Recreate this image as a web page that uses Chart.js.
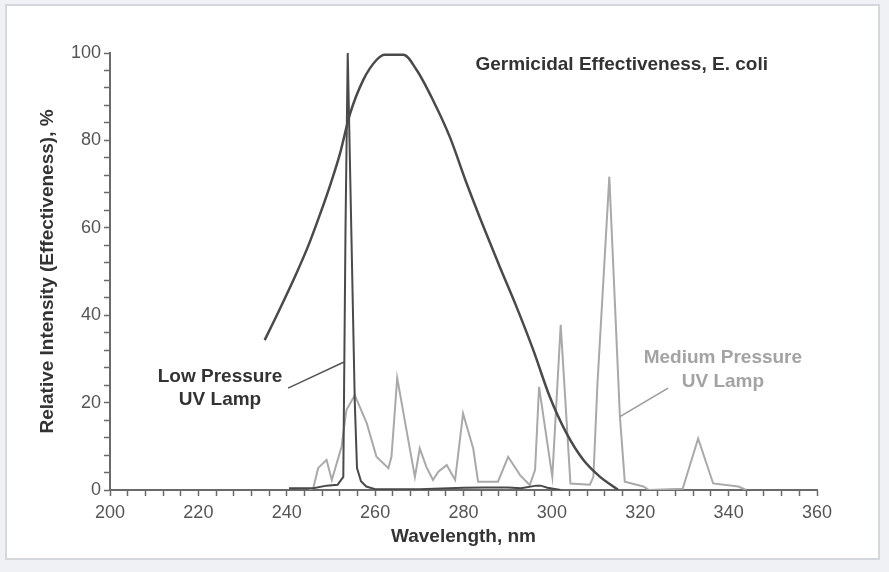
<!DOCTYPE html>
<html>
<head>
<meta charset="utf-8">
<script src="https://cdn.jsdelivr.net/npm/chart.js@4.4.1/dist/chart.umd.min.js"></script>
<style>
  html, body { margin: 0; padding: 0; background: #eff1f4; }
  #panel {
    position: absolute; left: 5px; top: 4px; width: 871px; height: 552px;
    background: #ffffff; border: 2px solid #d4d7db;
  }
  #wrap { position: absolute; left: 0; top: 0; width: 889px; height: 572px; }
</style>
</head>
<body>
<div id="panel"></div>
<div id="wrap"><canvas id="uvChart"></canvas></div>
<script>
// Germicidal effectiveness curve (E. coli)
const germNm  = [235, 238, 242.2, 245, 247.5, 250, 252, 254.3, 257.3, 260.3, 262.2, 266.4, 269.4, 273.1, 276.9, 280.7, 284.5, 288.2, 292, 295.8, 299.5, 303.3, 307.1, 310.9, 313.9, 315];
const germVal = [34.3, 40.5, 49.6, 56.2, 63, 70.3, 76.8, 86, 93.8, 98.4, 99.6, 99.6, 96.1, 89.2, 80.8, 70.2, 60.3, 51.1, 41.9, 32, 21.4, 13, 6.9, 3, 0.8, 0];

// Low pressure UV lamp
const lowNm  = [240.5, 246, 249, 251.5, 252.8, 253.3, 253.8, 255.4, 255.9, 256.8, 258, 260, 270, 280, 285, 290, 293, 296.5, 297.5, 299, 302];
const lowVal = [0.4, 0.4, 1, 1.2, 3, 60, 100, 20, 5, 2, 0.8, 0.2, 0.2, 0.5, 0.6, 0.6, 0.4, 1, 1, 0.5, 0];

// Medium pressure UV lamp
const medNm  = [245, 246, 247.1, 249, 250.2, 252.4, 253.5, 255.4, 258.1, 260.3, 263, 263.7, 265, 267.1, 269, 270.1, 271.6, 273.1, 274.3, 276.2, 278.1, 279.9, 282.2, 283.3, 287.8, 290.1, 292.8, 295, 296.2, 297.1, 300.1, 302, 304.2, 308.6, 309.4, 310.3, 313, 315.4, 316.5, 320.7, 322, 329.6, 333.1, 336.5, 342.2, 344];
const medVal = [0, 0.4, 5, 6.9, 2.3, 9.9, 18.3, 21.7, 15.3, 7.6, 5, 7.6, 25.6, 13.7, 3, 9.5, 5.3, 2.3, 4.2, 5.7, 2.3, 17.5, 9.5, 1.9, 1.9, 7.6, 3.4, 1.1, 4.6, 23.6, 3, 37.8, 1.5, 1.2, 3, 24, 71.7, 16.8, 1.9, 0.8, 0, 0.3, 11.8, 1.5, 0.8, 0];

// Axis settings
const xMin = 200, xMax = 360, yMin = 0, yMax = 100;
const minorStep = 4, majorStep = 20;

const darkLine = '#4a4a4a';
const grayLine = '#a9a9a9';
const axisColor = '#6a6a6a';
const labelColor = '#555555';
const fontFam = "'Liberation Sans', Arial, sans-serif";

const toPoints = (xs, ys) => xs.map((x, i) => ({ x: x, y: ys[i] }));

// Labels and leader lines, placed in data units
const notes = [
    { text: 'Germicidal Effectiveness, E. coli', x: 315.8, y: 97.3, color: '#333333' },
    { text: 'Low Pressure', x: 224.9, y: 25.9, color: '#333333' },
    { text: 'UV Lamp', x: 224.9, y: 20.6, color: '#333333' },
    { text: 'Medium Pressure', x: 338.7, y: 30.2, color: '#a3a3a3' },
    { text: 'UV Lamp', x: 338.7, y: 24.7, color: '#a3a3a3' }
];
const leaders = [
    { from: [240.3, 23.3], to: [253.2, 29.4], color: '#555555' },
    { from: [315.4, 16.8], to: [326.3, 23.3], color: '#9a9a9a' }
];

const notesPlugin = {
    id: 'notes',
    afterDatasetsDraw(chart) {
        const ctx = chart.ctx;
        const xs = chart.scales.x, ys = chart.scales.y;
        ctx.save();
        leaders.forEach(l => {
            ctx.beginPath();
            ctx.strokeStyle = l.color;
            ctx.lineWidth = 1.5;
            ctx.moveTo(xs.getPixelForValue(l.from[0]), ys.getPixelForValue(l.from[1]));
            ctx.lineTo(xs.getPixelForValue(l.to[0]), ys.getPixelForValue(l.to[1]));
            ctx.stroke();
        });
        ctx.font = 'bold 19px ' + fontFam;
        ctx.textAlign = 'center';
        ctx.textBaseline = 'middle';
        notes.forEach(n => {
            ctx.fillStyle = n.color;
            ctx.fillText(n.text, xs.getPixelForValue(n.x), ys.getPixelForValue(n.y));
        });
        ctx.restore();
    }
};

const lineStyle = { pointRadius: 0, pointHoverRadius: 0, fill: false };

new Chart(document.getElementById('uvChart'), {
    type: 'line',
    data: {
        datasets: [
            { label: 'Low Pressure UV Lamp', data: toPoints(lowNm, lowVal), borderColor: darkLine, borderWidth: 2, tension: 0, ...lineStyle },
            { label: 'Germicidal Effectiveness', data: toPoints(germNm, germVal), borderColor: darkLine, borderWidth: 2.5, cubicInterpolationMode: 'monotone', ...lineStyle },
            { label: 'Medium Pressure UV Lamp', data: toPoints(medNm, medVal), borderColor: grayLine, borderWidth: 2, tension: 0, ...lineStyle }
        ]
    },
    options: {
        responsive: true,
        maintainAspectRatio: false,
        animation: false,
        events: [],
        layout: { padding: { left: 0, top: 53, right: 72, bottom: 0 } },
        plugins: {
            legend: { display: false },
            tooltip: { enabled: false }
        },
        scales: {
            x: {
                type: 'linear',
                min: xMin, max: xMax,
                afterFit: s => { s.height = 82; },
                border: { display: true, color: axisColor, width: 2 },
                grid: { drawOnChartArea: false, drawTicks: true, tickLength: 6, tickColor: axisColor, tickWidth: 1.5 },
                ticks: {
                    stepSize: minorStep, autoSkip: false, maxRotation: 0, padding: 6,
                    color: labelColor, font: { family: fontFam, size: 18 },
                    callback: v => (v % majorStep === 0 ? v : '')
                },
                title: { display: true, text: 'Wavelength, nm', color: '#333333', font: { family: fontFam, size: 19, weight: 'bold' }, padding: { top: 4, bottom: 24 } }
            },
            y: {
                type: 'linear',
                min: yMin, max: yMax,
                afterFit: s => { s.width = 110; },
                border: { display: true, color: axisColor, width: 2 },
                grid: { drawOnChartArea: false, drawTicks: true, tickLength: 6, tickColor: axisColor, tickWidth: 1.5 },
                ticks: {
                    stepSize: minorStep, autoSkip: false, padding: 3,
                    color: labelColor, font: { family: fontFam, size: 18 },
                    callback: v => (v % majorStep === 0 ? v : '')
                },
                title: { display: true, text: 'Relative Intensity (Effectiveness), %', color: '#333333', font: { family: fontFam, size: 19, weight: 'bold' }, padding: { top: 36, bottom: 0 } }
            }
        }
    },
    plugins: [notesPlugin]
});
</script>
</body>
</html>
